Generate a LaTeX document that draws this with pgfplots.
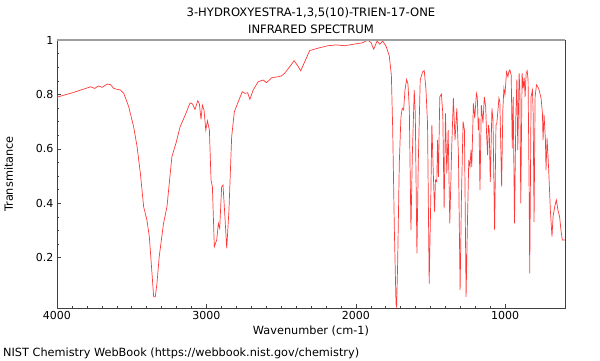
\documentclass[border=0pt]{standalone}
\usepackage{pgfplots}
\pgfplotsset{compat=1.18}
\usepackage{fontspec}
\setmainfont{DejaVu Sans}
\definecolor{spec}{rgb}{1,0.22,0.22}
\definecolor{axdark}{rgb}{0.25,0.25,0.25}
\begin{document}
\begin{tikzpicture}
\useasboundingbox (-57pt,-52pt) rectangle (543pt,308pt);
\begin{axis}[
  name=ax,
  scale only axis, width=508pt, height=268pt,
  at={(0,0)}, anchor=south west,
  x dir=reverse, xmin=600, xmax=4000,
  ymin=0.015, ymax=1,
  xtick={1000,2000,3000,4000}, minor x tick num=9,
  ytick={0.2,0.4,0.6,0.8,1}, minor y tick num=3,
  tick pos=left, tick align=inside,
  major tick length=4pt, minor tick length=2.5pt,
  every tick/.style={axdark, line width=0.5pt},
  axis line style={axdark, line width=0.8pt},
  /pgf/number format/assume math mode=true,
  /pgf/number format/1000 sep={},
  tick label style={font=\fontsize{11}{13}\selectfont},
  xlabel={Wavenumber (cm-1)}, ylabel={Transmitance},
  label style={font=\fontsize{11.3}{13}\selectfont},
  xlabel style={yshift=1pt},
  ylabel style={yshift=16pt},
  title style={font=\fontsize{11.6}{17}\selectfont, align=center, yshift=-3pt},
  title={3-HYDROXYESTRA-1,3,5(10)-TRIEN-17-ONE\\INFRARED SPECTRUM},
]
\addplot[spec, line width=0.7pt] table {
x y
4000 0.79
3898 0.806
3853 0.814
3775 0.828
3747 0.822
3724 0.831
3698 0.826
3664 0.838
3642 0.836
3620 0.822
3576 0.816
3553 0.804
3520 0.755
3487 0.681
3464 0.608
3442 0.51
3420 0.387
3398 0.338
3382 0.277
3369 0.179
3353 0.056
3342 0.056
3331 0.105
3316 0.203
3287 0.326
3264 0.387
3231 0.571
3204 0.62
3176 0.681
3142 0.724
3109 0.769
3093 0.765
3076 0.745
3058 0.777
3047 0.765
3036 0.708
3027 0.761
3016 0.743
3004 0.669
2993 0.703
2980 0.669
2969 0.485
2960 0.461
2947 0.24
2931 0.265
2920 0.326
2911 0.308
2898 0.461
2889 0.467
2876 0.35
2864 0.234
2849 0.375
2831 0.644
2813 0.736
2787 0.773
2760 0.81
2742 0.804
2724 0.806
2709 0.782
2687 0.816
2653 0.847
2620 0.853
2598 0.843
2564 0.861
2520 0.865
2498 0.868
2476 0.878
2442 0.902
2413 0.924
2387 0.904
2369 0.887
2342 0.92
2309 0.961
2253 0.97
2187 0.979
2131 0.982
2076 0.979
2009 0.985
1953 0.99
1920 1.0
1898 0.99
1880 0.966
1858 0.996
1840 0.985
1820 0.996
1798 0.978
1776 0.942
1762 0.87
1753 0.669
1742 0.301
1731 0.03
1727 0.02
1720 0.179
1709 0.547
1698 0.718
1689 0.749
1680 0.743
1671 0.816
1660 0.855
1651 0.838
1642 0.749
1631 0.301
1622 0.571
1609 0.816
1602 0.73
1591 0.216
1582 0.547
1569 0.853
1553 0.883
1542 0.887
1531 0.822
1520 0.694
1509 0.105
1498 0.424
1491 0.688
1482 0.522
1473 0.369
1467 0.485
1458 0.479
1453 0.632
1447 0.497
1438 0.791
1427 0.801
1418 0.73
1409 0.381
1400 0.73
1391 0.51
1382 0.669
1371 0.326
1358 0.608
1347 0.786
1336 0.632
1324 0.749
1313 0.571
1302 0.081
1293 0.424
1282 0.7
1273 0.669
1262 0.056
1253 0.326
1244 0.559
1236 0.534
1229 0.596
1224 0.534
1213 0.767
1204 0.712
1193 0.804
1187 0.791
1180 0.669
1176 0.712
1169 0.449
1160 0.761
1149 0.694
1140 0.791
1131 0.755
1124 0.644
1118 0.577
1113 0.688
1107 0.669
1100 0.479
1089 0.749
1082 0.706
1071 0.301
1062 0.688
1056 0.694
1042 0.786
1036 0.773
1024 0.461
1016 0.743
1009 0.822
1002 0.798
991 0.883
982 0.865
976 0.883
969 0.89
960 0.871
953 0.602
947 0.791
938 0.326
929 0.718
922 0.855
916 0.596
907 0.878
902 0.816
896 0.4
887 0.878
880 0.822
873 0.861
867 0.791
860 0.878
853 0.887
847 0.853
840 0.449
836 0.142
827 0.791
818 0.816
813 0.73
807 0.332
800 0.791
791 0.835
776 0.822
760 0.786
751 0.73
747 0.632
740 0.724
731 0.632
727 0.522
720 0.639
709 0.522
698 0.375
687 0.277
680 0.35
669 0.387
658 0.412
647 0.375
636 0.35
627 0.301
618 0.265
600 0.265
};
\end{axis}
\draw[gray!75, line width=1.6pt] (ax.north west) -- (ax.north east);
\node[anchor=base west, font=\fontsize{11.3}{13}\selectfont, inner sep=0pt] at (-54pt,-48pt) {NIST Chemistry WebBook (https://webbook.nist.gov/chemistry)};
\end{tikzpicture}
\end{document}
